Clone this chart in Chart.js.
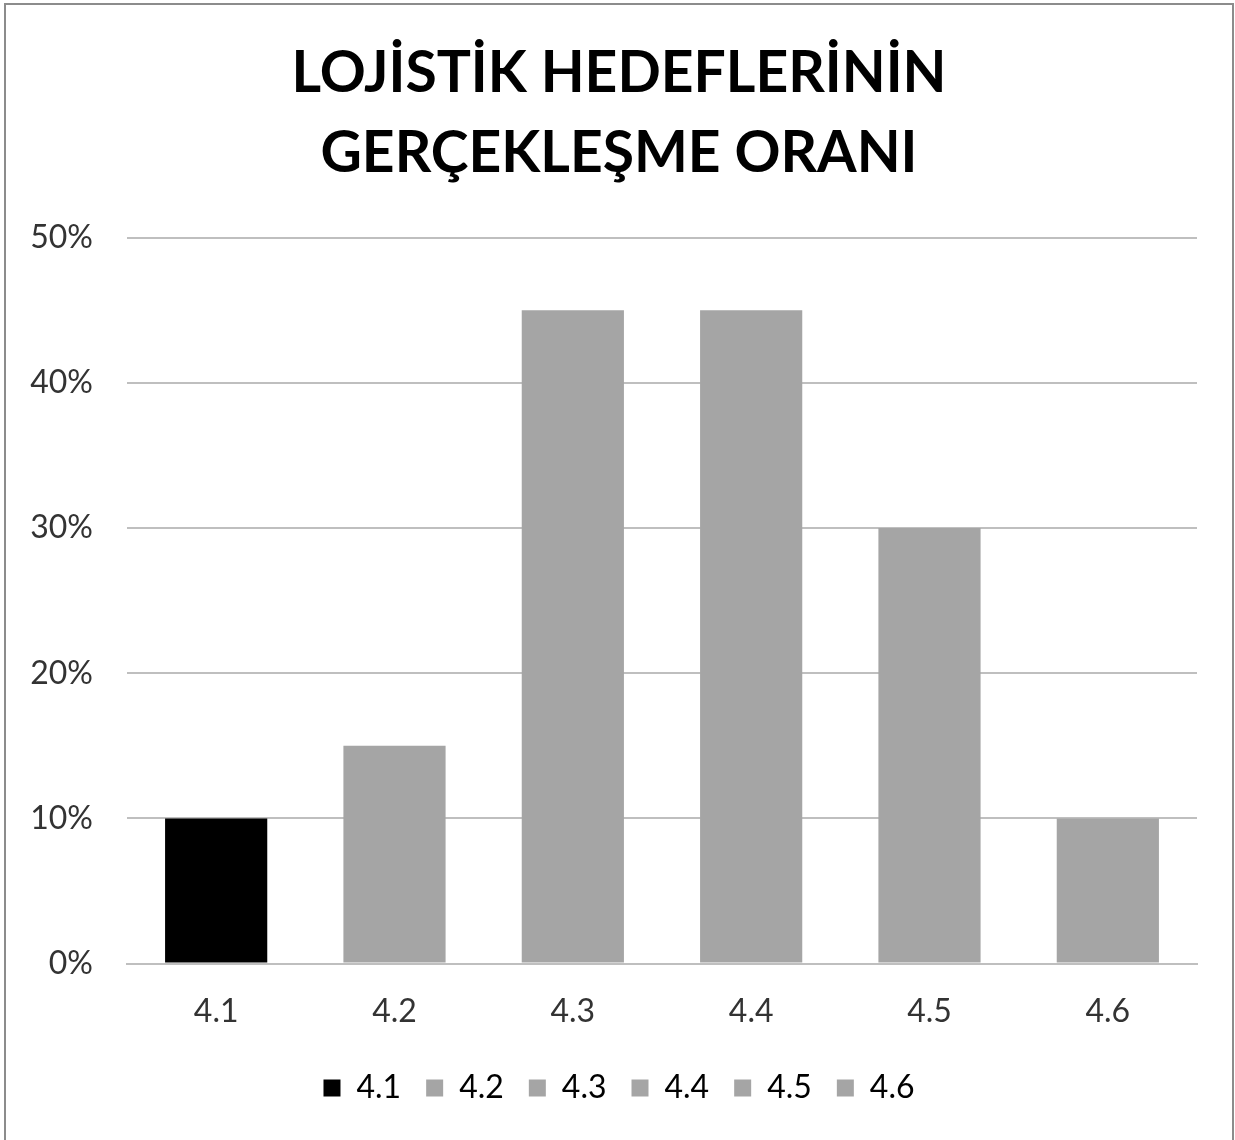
<!DOCTYPE html>
<html>
<head>
<meta charset="utf-8">
<script src="https://cdn.jsdelivr.net/npm/chart.js@4/dist/chart.umd.min.js"></script>
<style>
  body { margin: 0; background: #fff; }
  #box {
    position: absolute; left: 4px; top: 3px;
    width: 1226px; height: 1140px;
    border: 2px solid #8c8c8c; border-bottom: none;
    background: #fff;
  }
  #wrap { position: absolute; left: 0; top: 0; width: 1226px; height: 1137px; }
</style>
</head>
<body>
<div id="box"><div id="wrap"><canvas id="hedefChart"></canvas></div></div>
<script>
var categories = ['4.1', '4.2', '4.3', '4.4', '4.5', '4.6'];
var oranlar = [10, 15, 45, 45, 30, 10];   // yüzde
var renkler = ['#000000', '#a5a5a5', '#a5a5a5', '#a5a5a5', '#a5a5a5', '#a5a5a5'];
var yTicks = [0, 10, 20, 30, 40, 50];

var fontAile = 'Lato, "Open Sans", sans-serif';

var ctx = document.getElementById('hedefChart').getContext('2d');
var myChart = new Chart(ctx, {
  type: 'bar',
  data: {
    labels: categories,
    datasets: [{
      data: oranlar,
      backgroundColor: renkler,
      borderWidth: 0,
      barPercentage: 1,
      categoryPercentage: 0.573
    }]
  },
  options: {
    responsive: true,
    maintainAspectRatio: false,
    animation: false,
    layout: { padding: { left: 0, right: 0, top: 29, bottom: 28 } },
    plugins: {
      title: {
        display: true,
        text: ['LOJİSTİK HEDEFLERİNİN', 'GERÇEKLEŞME ORANI'],
        color: '#000',
        font: { family: fontAile, size: 57, weight: 'bold', lineHeight: 1.4 },
        padding: { top: 0, bottom: 44 }
      },
      legend: {
        display: true,
        position: 'bottom',
        labels: {
          color: '#333',
          font: { family: fontAile, size: 32 },
          boxWidth: 17,
          boxHeight: 17,
          padding: 25,
          generateLabels: function(chart) {
            return categories.map(function(c, i) {
              return {
                text: c,
                fillStyle: renkler[i],
                strokeStyle: renkler[i],
                lineWidth: 0,
                hidden: false,
                index: i
              };
            });
          }
        },
        onClick: function() {}
      },
      tooltip: { enabled: false }
    },
    scales: {
      x: {
        grid: { display: false },
        border: { color: '#bfbfbf', width: 2 },
        ticks: { color: '#333', font: { family: fontAile, size: 32 }, padding: 21 },
        afterFit: function(axis) { axis.height -= 5; }
      },
      y: {
        min: 0,
        max: 50,
        afterBuildTicks: function(axis) {
          axis.ticks = yTicks.map(function(v) { return { value: v }; });
        },
        afterFit: function(axis) { axis.width = 121; },
        grid: { color: '#bfbfbf', lineWidth: 2, drawTicks: false },
        border: { display: false },
        ticks: {
          color: '#333',
          font: { family: fontAile, size: 32 },
          padding: 34,
          callback: function(v) { return v + '%'; }
        }
      },
      // sağ boşluk için görünmez eksen
      bosluk: {
        position: 'right',
        grid: { display: false },
        border: { display: false },
        ticks: { display: false },
        afterFit: function(axis) { axis.width = 35; }
      }
    }
  }
});
</script>
</body>
</html>
